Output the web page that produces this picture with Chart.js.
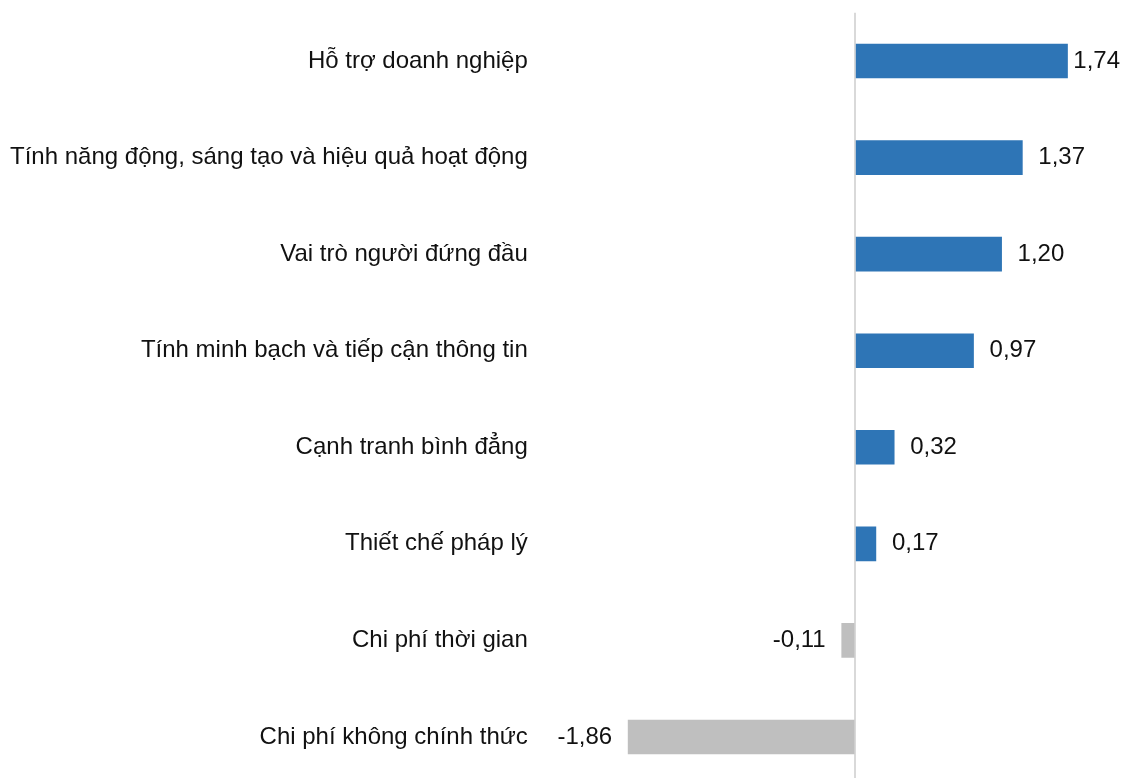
<!DOCTYPE html>
<html lang="vi">
<head>
<meta charset="utf-8">
<title>Chỉ số thành phần</title>
<script src="https://cdn.jsdelivr.net/npm/chart.js@4/dist/chart.umd.min.js"></script>
<style>
  html, body { margin: 0; padding: 0; background: #fff; overflow: hidden; }
  #wrap { position: relative; width: 1122px; height: 790px; }
</style>
</head>
<body>
<div id="wrap"><canvas id="chart"></canvas></div>
<script>
// Component scores and their change
const categories = [
  'Hỗ trợ doanh nghiệp',
  'Tính năng động, sáng tạo và hiệu quả hoạt động',
  'Vai trò người đứng đầu',
  'Tính minh bạch và tiếp cận thông tin',
  'Cạnh tranh bình đẳng',
  'Thiết chế pháp lý',
  'Chi phí thời gian',
  'Chi phí không chính thức'
];
const values = [1.74, 1.37, 1.20, 0.97, 0.32, 0.17, -0.11, -1.86];

const POSITIVE = '#2E75B6';
const NEGATIVE = '#BFBFBF';
const FONT = "'Liberation Sans', Arial, sans-serif";
const FONT_SIZE = 24;

const fmt = v => v.toFixed(2).replace('.', ',');

// Writes each bar's value beside its end
const valueLabels = {
  id: 'valueLabels',
  afterDatasetsDraw(chart) {
    const { ctx, chartArea } = chart;
    const meta = chart.getDatasetMeta(0);
    ctx.save();
    ctx.font = FONT_SIZE + 'px ' + FONT;
    ctx.fillStyle = '#111';
    ctx.textBaseline = 'middle';
    meta.data.forEach((bar, i) => {
      const v = values[i];
      const text = fmt(v);
      const w = ctx.measureText(text).width;
      if (v >= 0) {
        let x = bar.x + 16;
        if (x + w > chartArea.right) x = chartArea.right - w;
        ctx.textAlign = 'left';
        ctx.fillText(text, x, bar.y);
      } else {
        ctx.textAlign = 'right';
        ctx.fillText(text, bar.x - 16, bar.y);
      }
    });
    ctx.restore();
  }
};

new Chart(document.getElementById('chart'), {
  type: 'bar',
  data: {
    labels: categories,
    datasets: [{
      data: values,
      backgroundColor: values.map(v => v >= 0 ? POSITIVE : NEGATIVE),
      borderWidth: 0,
      barThickness: 34
    }]
  },
  options: {
    indexAxis: 'y',
    responsive: true,
    maintainAspectRatio: false,
    animation: false,
    layout: { padding: { top: 12.7, bottom: 4.7, left: 0, right: 2 } },
    plugins: {
      legend: { display: false },
      tooltip: { enabled: false }
    },
    scales: {
      x: {
        min: -2.6,
        max: 2.17,
        ticks: { display: false, stepSize: 0.1 },
        border: { display: false },
        grid: {
          drawTicks: false,
          lineWidth: 2,
          color: c => (c.tick && Math.abs(c.tick.value) < 1e-9) ? '#D9D9D9' : 'rgba(0,0,0,0)'
        }
      },
      y: {
        afterFit(scale) {
          scale.width = 537.8;
          scale.paddingTop = 0;
          scale.paddingBottom = 0;
        },
        border: { display: false },
        grid: { display: false, drawTicks: false },
        ticks: {
          padding: 10,
          color: '#111',
          font: { family: FONT, size: FONT_SIZE }
        }
      }
    }
  },
  plugins: [valueLabels]
});
</script>
</body>
</html>
